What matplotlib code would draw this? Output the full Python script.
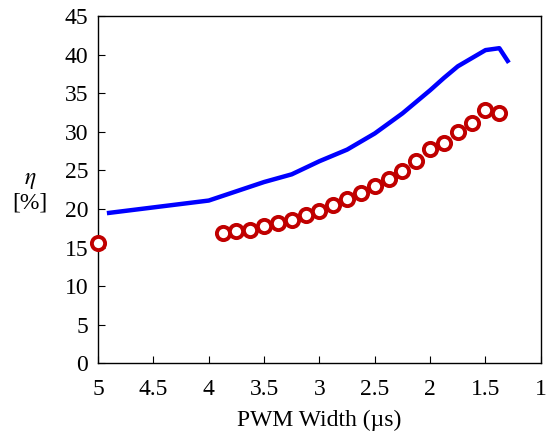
import matplotlib
matplotlib.use("Agg")
import matplotlib.pyplot as plt

# Simulated efficiency (blue line)
line_x = [4.9, 4.0, 3.75, 3.5, 3.25, 3.0, 2.75, 2.5, 2.25, 2.0, 1.875, 1.75, 1.5, 1.375, 1.3]
line_y = [19.5, 21.1, 22.3, 23.5, 24.5, 26.2, 27.7, 29.8, 32.4, 35.4, 37.0, 38.5, 40.6, 40.85, 39.2]

# Measured efficiency (red circles)
meas_x = [5.0, 3.875, 3.75, 3.625, 3.5, 3.375, 3.25, 3.125, 3.0, 2.875, 2.75, 2.625,
          2.5, 2.375, 2.25, 2.125, 2.0, 1.875, 1.75, 1.625, 1.5, 1.375]
meas_y = [15.6, 16.9, 17.1, 17.3, 17.8, 18.2, 18.6, 19.2, 19.7, 20.5, 21.3, 22.1,
          23.0, 23.9, 24.9, 26.2, 27.8, 28.6, 30.0, 31.1, 32.9, 32.4]

xticks = [5, 4.5, 4, 3.5, 3, 2.5, 2, 1.5, 1]
xticklabels = ["5", "4.5", "4", "3.5", "3", "2.5", "2", "1.5", "1"]
yticks = [0, 5, 10, 15, 20, 25, 30, 35, 40, 45]

plt.rcParams['font.family'] = ['Liberation Serif', 'DejaVu Serif']
plt.rcParams['mathtext.fontset'] = 'stix'

fig = plt.figure(figsize=(5.57, 4.37), dpi=100)
ax = fig.add_axes([0.176, 0.1686, 0.795, 0.7944])

ax.plot(line_x, line_y, color='#0000ff', lw=3.2, solid_joinstyle='round', zorder=2)
ax.plot(meas_x, meas_y, linestyle='none', marker='o', markersize=9.5,
        markerfacecolor='white', markeredgecolor='#c00000', markeredgewidth=2.8,
        zorder=3, clip_on=False)

ax.set_xlim(5, 1)
ax.set_ylim(0, 45)
ax.set_xticks(xticks)
ax.set_xticklabels(xticklabels)
ax.set_yticks(yticks)

ax.tick_params(axis='both', direction='in', length=5, width=0.8, labelsize=17,
               top=False, right=False)
ax.tick_params(axis='x', pad=11)
ax.tick_params(axis='y', pad=7)
for s in ax.spines.values():
    s.set_linewidth(1.0)

ax.set_xlabel("PWM Width (µs)", fontsize=17)
ax.xaxis.set_label_coords(0.5, -0.135)
ax.set_ylabel("$\\eta$\n[%]", fontsize=17, rotation=0, va='center', ha='center',
              linespacing=1.1)
ax.yaxis.set_label_coords(-0.1535, 0.494)

fig.savefig("out.png", dpi=100)
